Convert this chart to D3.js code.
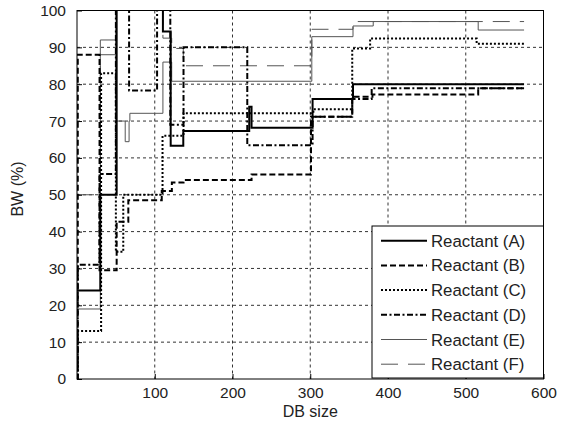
<!DOCTYPE html>
<html>
<head>
<meta charset="utf-8">
<script src="https://cdn.jsdelivr.net/npm/d3@7"></script>
<style>
  html, body { margin: 0; padding: 0; background: #fff; }
  svg { display: block; }
  text { font-family: "Liberation Sans", Arial, sans-serif; fill: #222; }
</style>
</head>
<body>
<svg id="chart" width="565" height="429"></svg>
<script>
// ---- data (step functions: value holds from x onward) ----
const seriesNames = ["Reactant (A)", "Reactant (B)", "Reactant (C)", "Reactant (D)", "Reactant (E)", "Reactant (F)"];

const aX = [0, 30, 51, 110.5, 120.5, 136.7, 221.5, 224.5, 303, 355, 575];
const aY = [24, 50, 104, 94.3, 63.3, 67.3, 73.9, 68.2, 76, 80, 80];

const bX = [0, 1, 29, 51, 66, 109, 122, 137, 224.5, 301, 354, 380, 516, 575];
const bY = [0, 88, 29.5, 42.7, 48.5, 51, 53.3, 54, 55.5, 71.2, 76.6, 77.2, 78.9, 78.9];

const cX = [0, 1, 31, 50, 59.5, 110, 137, 304, 354, 377, 514, 575];
const cY = [0, 13, 83, 34.5, 50, 66, 72.1, 73.2, 89.7, 92.4, 91, 91];

const dX = [0, 1, 29, 50, 67, 103, 120, 137, 219, 303, 354, 379, 575];
const dY = [0, 31, 55.6, 104, 78.3, 104, 69, 90, 63.4, 71.2, 76, 78.9, 78.9];

const eX = [0, 30, 50, 62, 67, 68, 110.5, 121.8, 302, 355, 381, 516, 575];
const eY = [19, 92, 70, 64.4, 70, 72.1, 86, 80.8, 92.9, 95.8, 97, 94.7, 94.7];

const fX = [0, 30, 50, 110.5, 121.8, 136.7, 302, 355, 575];
const fY = [50, 88, 104, 92.5, 89.7, 85, 94.9, 97, 97];

const xTicks = [100, 200, 300, 400, 500, 600];
const yTicks = [0, 10, 20, 30, 40, 50, 60, 70, 80, 90, 100];
const xGrid = [100, 200, 300, 400, 500];
const yGrid = [10, 20, 30, 40, 50, 60, 70, 80, 90];

// ---- layout ----
const svg = d3.select("#chart");
const L = 77, R = 543.5, T = 10.5, B = 379;
const x = d3.scaleLinear().domain([0, 600]).range([L, R]);
const y = d3.scaleLinear().domain([0, 100]).range([B, T]);

const styles = [
  { color: "#000", width: 2, dash: null },
  { color: "#000", width: 2, dash: "6,3" },
  { color: "#000", width: 2, dash: "2,2" },
  { color: "#000", width: 2, dash: "6,2.5,2,2.5" },
  { color: "#555", width: 1, dash: null },
  { color: "#555", width: 1, dash: "17,10" }
];
const series = [[aX, aY], [bX, bY], [cX, cY], [dX, dY], [eX, eY], [fX, fY]]
  .map(([xs, ys], i) => ({ name: seriesNames[i], pts: xs.map((v, j) => [v, ys[j]]), style: styles[i] }));

svg.append("defs").append("clipPath").attr("id", "plotclip")
  .append("rect").attr("x", L).attr("y", T).attr("width", R - L).attr("height", B - T);

// grid
const grid = svg.append("g");
grid.selectAll(".gx").data(xGrid).enter().append("line")
  .attr("x1", d => x(d)).attr("x2", d => x(d)).attr("y1", T).attr("y2", B)
  .attr("stroke", "#333").attr("stroke-width", 1).attr("stroke-dasharray", "3,3");
grid.selectAll(".gy").data(yGrid).enter().append("line")
  .attr("x1", L).attr("x2", R).attr("y1", d => y(d)).attr("y2", d => y(d))
  .attr("stroke", "#333").attr("stroke-width", 1).attr("stroke-dasharray", "3,3");

// lines
const line = d3.line().x(d => x(d[0])).y(d => y(d[1])).curve(d3.curveStepAfter);
const lg = svg.append("g").attr("clip-path", "url(#plotclip)");
[4, 5, 2, 1, 3, 0].forEach(i => {
  const s = series[i];
  lg.append("path").datum(s.pts).attr("d", line)
    .attr("fill", "none").attr("stroke", s.style.color)
    .attr("stroke-width", s.style.width)
    .attr("stroke-dasharray", s.style.dash)
    .attr("stroke-linejoin", "miter").attr("stroke-linecap", "butt");
});

// axes
const xAxis = d3.axisBottom(x).tickValues(xTicks).tickSizeInner(-5).tickSizeOuter(0).tickPadding(8);
const yAxis = d3.axisLeft(y).tickValues(yTicks).tickSizeInner(-5).tickSizeOuter(0).tickPadding(11);
const gx = svg.append("g").attr("transform", `translate(0,${B})`).call(xAxis);
const gy = svg.append("g").attr("transform", `translate(${L},0)`).call(yAxis);
[gx, gy].forEach(g => {
  g.select(".domain").remove();
  g.selectAll(".tick line").attr("stroke", "#000");
  g.selectAll(".tick text").attr("font-size", 15.5).attr("fill", "#222")
    .attr("font-family", "Liberation Sans, Arial, sans-serif");
});

// frame
svg.append("rect").attr("x", L).attr("y", T).attr("width", R - L).attr("height", B - T)
  .attr("fill", "none").attr("stroke", "#000").attr("stroke-width", 1);

// axis labels
svg.append("text").attr("x", (L + R) / 2).attr("y", 417).attr("text-anchor", "middle")
  .attr("font-size", 16).text("DB size");
svg.append("text").attr("transform", "translate(23,189) rotate(-90)").attr("text-anchor", "middle")
  .attr("font-size", 16).text("BW (%)");

// legend
const lgX = 372, lgY = 226, lgW = R - 372, lgH = 152;
const leg = svg.append("g");
leg.append("rect").attr("x", lgX).attr("y", lgY).attr("width", lgW).attr("height", lgH)
  .attr("fill", "#fff").attr("stroke", "#000").attr("stroke-width", 1);
series.forEach((s, i) => {
  const cy = 240.7 + i * 24.7;
  leg.append("line").attr("x1", 381).attr("x2", 427).attr("y1", cy).attr("y2", cy)
    .attr("stroke", s.style.color).attr("stroke-width", s.style.width)
    .attr("stroke-dasharray", s.style.dash);
  leg.append("text").attr("x", 431).attr("y", cy).attr("dy", "0.36em")
    .attr("font-size", 16.8).text(s.name);
});
</script>
</body>
</html>
